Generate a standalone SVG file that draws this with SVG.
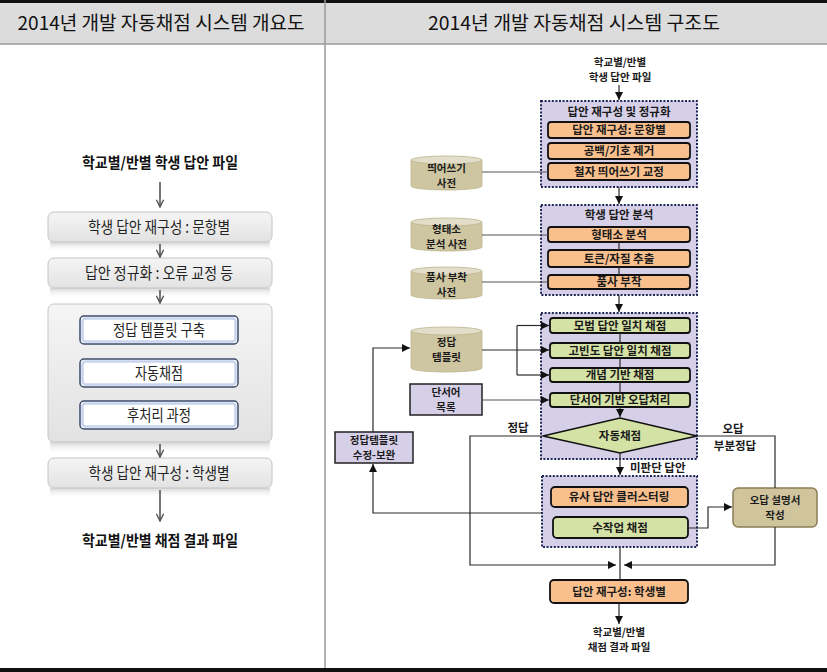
<svg xmlns="http://www.w3.org/2000/svg" width="827" height="672" viewBox="0 0 827 672">
<style>
.hd{font-family:"Noto Sans CJK KR","Noto Sans",sans-serif;font-size:19px;fill:#111;text-anchor:middle}
.lt{font-family:"Noto Sans CJK KR","Noto Sans",sans-serif;font-size:16px;fill:#222;text-anchor:middle}
.lb{font-family:"Noto Sans CJK KR","Noto Sans",sans-serif;font-size:15px;font-weight:bold;fill:#111;text-anchor:middle}
.rt{font-family:"Noto Sans CJK KR","Noto Sans",sans-serif;font-size:11.5px;font-weight:bold;fill:#1a1a1a;text-anchor:middle}
.rt2{font-family:"Noto Sans CJK KR","Noto Sans",sans-serif;font-size:10.5px;font-weight:bold;fill:#1a1a1a;text-anchor:middle}
.lbl{font-family:"Noto Sans CJK KR","Noto Sans",sans-serif;font-size:11.5px;font-weight:bold;fill:#1a1a1a}
.grp{fill:#d6cfe8;stroke:#1f2756;stroke-width:2;stroke-dasharray:2 1.6}
.or{fill:#f9c08e;stroke:#111;stroke-width:1.8}
.gr{fill:#d5e2a5;stroke:#111;stroke-width:1.8}
.pb{fill:#d6cfe8;stroke:#222;stroke-width:1.5}
.cylb{fill:#cdc6a0;stroke:#bdb58f;stroke-width:0.8}
.cylt{fill:#e2dec9;stroke:#bdb58f;stroke-width:0.8}
.lbox{fill:url(#gbox);stroke:#c4c4c4;stroke-width:1}
.ibox{fill:#fff;stroke:#3d4a6a;stroke-width:1.5}
.iglow{fill:none;stroke:#c7d4ee;stroke-width:2.5}
.sh{fill:url(#gsh)}
.c{fill:none;stroke:#2a2a2a;stroke-width:1.2}
.cg{fill:none;stroke:#555;stroke-width:1.2}
.la{fill:none;stroke:#555;stroke-width:1.6}
</style>
<defs>
<linearGradient id="gbox" x1="0" y1="0" x2="0" y2="1">
<stop offset="0" stop-color="#f5f5f5"/><stop offset="1" stop-color="#e2e2e2"/>
</linearGradient>
<linearGradient id="gsh" x1="0" y1="0" x2="0" y2="1">
<stop offset="0" stop-color="#cfcfcf" stop-opacity="0.9"/><stop offset="1" stop-color="#ffffff" stop-opacity="0"/>
</linearGradient>
<marker id="arr" viewBox="0 0 10 10" refX="10" refY="5" markerWidth="8" markerHeight="8" markerUnits="userSpaceOnUse" orient="auto">
<path d="M0,0 L10,5 L0,10 z" fill="#111"/>
</marker>
<marker id="chev" viewBox="0 0 10 10" refX="9" refY="5" markerWidth="9" markerHeight="9" markerUnits="userSpaceOnUse" orient="auto">
<path d="M1,1 L9,5 L1,9" fill="none" stroke="#555" stroke-width="1.6"/>
</marker>
</defs>

<rect x="0" y="0" width="827" height="672" fill="#fff"/>
<g id="header">
<rect x="0" y="0" width="827" height="44" fill="#dcdcdc"/>
<rect x="0" y="0" width="827" height="3" fill="#111"/>
<line x1="0" y1="44" x2="827" y2="44" stroke="#9a9a9a" stroke-width="1.5"/>
<text class="hd" x="161" y="30" textLength="287" lengthAdjust="spacingAndGlyphs">2014년 개발 자동채점 시스템 개요도</text>
<text class="hd" x="574" y="30" textLength="292" lengthAdjust="spacingAndGlyphs">2014년 개발 자동채점 시스템 구조도</text>
</g>
<line x1="325" y1="0" x2="325" y2="669" stroke="#9a9a9a" stroke-width="1.5"/>
<rect x="0" y="668" width="827" height="4" fill="#111"/>

<!-- LEFT PANEL -->
<g id="l-in"><text class="lb" x="160" y="168" textLength="156" lengthAdjust="spacingAndGlyphs">학교별/반별 학생 답안 파일</text></g>
<g id="l-box1">
<rect class="sh" x="50" y="242" width="220" height="10"/>
<rect class="lbox" x="48" y="212" width="224" height="30" rx="6"/>
<text class="lt" x="159" y="233" textLength="142" lengthAdjust="spacingAndGlyphs">학생 답안 재구성 : 문항별</text>
</g>
<g id="l-box2">
<rect class="sh" x="50" y="288" width="220" height="10"/>
<rect class="lbox" x="48" y="258" width="224" height="30" rx="6"/>
<text class="lt" x="159" y="279" textLength="148" lengthAdjust="spacingAndGlyphs">답안 정규화 : 오류 교정 등</text>
</g>
<g id="l-big">
<rect class="sh" x="50" y="442" width="220" height="12"/>
<rect class="lbox" x="48" y="304" width="224" height="138" rx="6"/>
</g>
<g id="l-i1">
<rect class="ibox" x="80" y="316" width="158" height="28" rx="4"/>
<rect class="iglow" x="82.5" y="318.5" width="153" height="23" rx="3"/>
<text class="lt" x="159" y="336" textLength="92" lengthAdjust="spacingAndGlyphs">정답 템플릿 구축</text>
</g>
<g id="l-i2">
<rect class="ibox" x="80" y="359" width="158" height="28" rx="4"/>
<rect class="iglow" x="82.5" y="361.5" width="153" height="23" rx="3"/>
<text class="lt" x="159" y="379" textLength="48" lengthAdjust="spacingAndGlyphs">자동채점</text>
</g>
<g id="l-i3">
<rect class="ibox" x="80" y="401" width="158" height="28" rx="4"/>
<rect class="iglow" x="82.5" y="403.5" width="153" height="23" rx="3"/>
<text class="lt" x="159" y="421" textLength="64" lengthAdjust="spacingAndGlyphs">후처리 과정</text>
</g>
<g id="l-box4">
<rect class="sh" x="50" y="488" width="220" height="10"/>
<rect class="lbox" x="48" y="458" width="224" height="30" rx="6"/>
<text class="lt" x="159" y="479" textLength="141" lengthAdjust="spacingAndGlyphs">학생 답안 재구성 : 학생별</text>
</g>
<g id="l-out"><text class="lb" x="160" y="546" textLength="156" lengthAdjust="spacingAndGlyphs">학교별/반별 채점 결과 파일</text></g>
<g id="l-connectors">
<path class="la" d="M160,182 V207" marker-end="url(#chev)"/>
<path class="la" d="M160,244 V257" marker-end="url(#chev)"/>
<path class="la" d="M160,290 V303" marker-end="url(#chev)"/>
<path class="la" d="M160,444 V457" marker-end="url(#chev)"/>
<path class="la" d="M160,490 V521" marker-end="url(#chev)"/>
</g>

<!-- RIGHT PANEL -->
<g id="r-in">
<text class="rt2" x="620" y="66">학교별/반별</text>
<text class="rt2" x="620" y="81">학생 답안 파일</text>
</g>
<g id="grp1">
<rect class="grp" x="541" y="101" width="156" height="86"/>
<text class="rt" x="619" y="116">답안 재구성 및 정규화</text>
</g>
<g id="s1a"><rect class="or" x="548" y="122" width="142" height="16" rx="3"/><text class="rt" x="619" y="134">답안 재구성: 문항별</text></g>
<g id="s1b"><rect class="or" x="548" y="143" width="142" height="16" rx="3"/><text class="rt" x="619" y="155">공백/기호 제거</text></g>
<g id="s1c"><rect class="or" x="548" y="163" width="142" height="17" rx="3"/><text class="rt" x="619" y="175.5">철자 띄어쓰기 교정</text></g>

<g id="grp2">
<rect class="grp" x="541" y="205" width="156" height="90"/>
<text class="rt" x="619" y="219">학생 답안 분석</text>
</g>
<g id="s2a"><rect class="or" x="548" y="227" width="142" height="15" rx="3"/><text class="rt" x="619" y="238.5">형태소 분석</text></g>
<g id="s2b"><rect class="or" x="548" y="250" width="142" height="17" rx="3"/><text class="rt" x="619" y="262.5">토큰/자질 추출</text></g>
<g id="s2c"><rect class="or" x="548" y="275" width="142" height="14" rx="3"/><text class="rt" x="619" y="286">품사 부착</text></g>

<g id="grp3"><rect class="grp" x="541" y="313" width="156" height="146"/></g>
<g id="s3a"><rect class="gr" x="550" y="318" width="140" height="15" rx="3"/><text class="rt" x="620" y="329.5">모범 답안 일치 채점</text></g>
<g id="s3b"><rect class="gr" x="550" y="343" width="140" height="15" rx="3"/><text class="rt" x="620" y="354.5">고빈도 답안 일치 채점</text></g>
<g id="s3c"><rect class="gr" x="550" y="368" width="140" height="14" rx="3"/><text class="rt" x="620" y="379">개념 기반 채점</text></g>
<g id="s3d"><rect class="gr" x="550" y="393" width="140" height="14" rx="3"/><text class="rt" x="620" y="404">단서어 기반 오답처리</text></g>
<g id="decision">
<path d="M543,436 L620,418 L697,436 L620,453 Z" fill="#d5e2a5" stroke="#111" stroke-width="1.5"/>
<text class="rt" x="620" y="440">자동채점</text>
</g>

<g id="grp4"><rect class="grp" x="542" y="476" width="155" height="71"/></g>
<g id="s4a"><rect class="or" x="551" y="487" width="137" height="20" rx="4"/><text class="rt" x="619" y="501">유사 답안 클러스터링</text></g>
<g id="s4b"><rect class="gr" x="553" y="517" width="135" height="21" rx="4"/><text class="rt" x="620" y="532">수작업 채점</text></g>

<g id="out-box"><rect class="or" x="550" y="580" width="138" height="23" rx="4"/><text class="rt" x="619" y="596">답안 재구성: 학생별</text></g>
<g id="r-out">
<text class="rt2" x="619" y="636">학교별/반별</text>
<text class="rt2" x="619" y="651">채점 결과 파일</text>
</g>

<g id="cyl1">
<path class="cylb" d="M411,160 V186 A35.5,4 0 0 0 482,186 V160 Z"/>
<ellipse class="cylt" cx="446.5" cy="160" rx="35.5" ry="4"/>
<text class="rt2" x="446.5" y="171.5">띄어쓰기</text>
<text class="rt2" x="446.5" y="186.5">사전</text>
</g>
<g id="cyl2">
<path class="cylb" d="M411,222 V247 A35.5,4 0 0 0 482,247 V222 Z"/>
<ellipse class="cylt" cx="446.5" cy="222" rx="35.5" ry="4"/>
<text class="rt2" x="446.5" y="233">형태소</text>
<text class="rt2" x="446.5" y="248">분석 사전</text>
</g>
<g id="cyl3">
<path class="cylb" d="M411,271 V295 A35.5,4 0 0 0 482,295 V271 Z"/>
<ellipse class="cylt" cx="446.5" cy="271" rx="35.5" ry="4"/>
<text class="rt2" x="446.5" y="281">품사 부착</text>
<text class="rt2" x="446.5" y="296">사전</text>
</g>
<g id="cyl4">
<path class="cylb" d="M411,331 V368 A35.5,4 0 0 0 482,368 V331 Z"/>
<ellipse class="cylt" cx="446.5" cy="331" rx="35.5" ry="4"/>
<text class="rt2" x="446.5" y="346">정답</text>
<text class="rt2" x="446.5" y="361">템플릿</text>
</g>
<g id="clue">
<rect class="pb" x="410" y="384" width="72" height="31"/>
<text class="rt2" x="446" y="396">단서어</text>
<text class="rt2" x="446" y="411">목록</text>
</g>
<g id="revise">
<rect class="pb" x="335" y="432" width="78" height="31"/>
<text class="rt2" x="374" y="444">정답템플릿</text>
<text class="rt2" x="374" y="459">수정-보완</text>
</g>
<g id="explain">
<rect x="733" y="488" width="84" height="39" rx="5" fill="#d0c49d" stroke="#8b7d55" stroke-width="1.5"/>
<text class="rt2" x="775" y="504">오답 설명서</text>
<text class="rt2" x="775" y="519">작성</text>
</g>

<g id="labels">
<text class="lbl" x="518" y="432" text-anchor="middle">정답</text>
<text class="lbl" x="733" y="433" text-anchor="middle">오답</text>
<text class="lbl" x="735" y="450" text-anchor="middle">부분정답</text>
<text class="lbl" x="630" y="472">미판단 답안</text>
</g>

<g id="connectors">
<path class="c" d="M619,85 V100" marker-end="url(#arr)"/>
<path class="c" d="M619,187 V204" marker-end="url(#arr)"/>
<path class="c" d="M619,295 V312" marker-end="url(#arr)"/>
<path class="c" d="M619,242 V250 M619,267 V275"/>
<path class="c" d="M620,333 V343 M620,358 V368 M620,382 V393"/>
<path class="c" d="M620,407 V417" marker-end="url(#arr)"/>
<path class="c" d="M620,453 V475" marker-end="url(#arr)"/>
<path class="c" d="M620,547 V580"/>
<path class="c" d="M619,603 V624" marker-end="url(#arr)"/>
<path class="cg" d="M482,172 H548"/>
<path class="cg" d="M482,235 H548"/>
<path class="cg" d="M482,282 H548"/>
<path class="c" d="M482,350 H549" marker-end="url(#arr)"/>
<path class="c" d="M517,325.5 V375"/>
<path class="c" d="M517,325.5 H549" marker-end="url(#arr)"/>
<path class="c" d="M517,375 H549" marker-end="url(#arr)"/>
<path class="cg" d="M482,400 H549" marker-end="url(#arr)"/>
<path class="c" d="M373,432 V348 H410" marker-end="url(#arr)"/>
<path class="c" d="M542,513 H373 V464" marker-end="url(#arr)"/>
<path class="c" d="M543,436 H470 V565 H616" marker-end="url(#arr)"/>
<path class="c" d="M697,436 H775 V488"/>
<path class="c" d="M775,527 V565 H624" marker-end="url(#arr)"/>
<path class="c" d="M688,528 H708 V507 H732" marker-end="url(#arr)"/>
</g>
</svg>
